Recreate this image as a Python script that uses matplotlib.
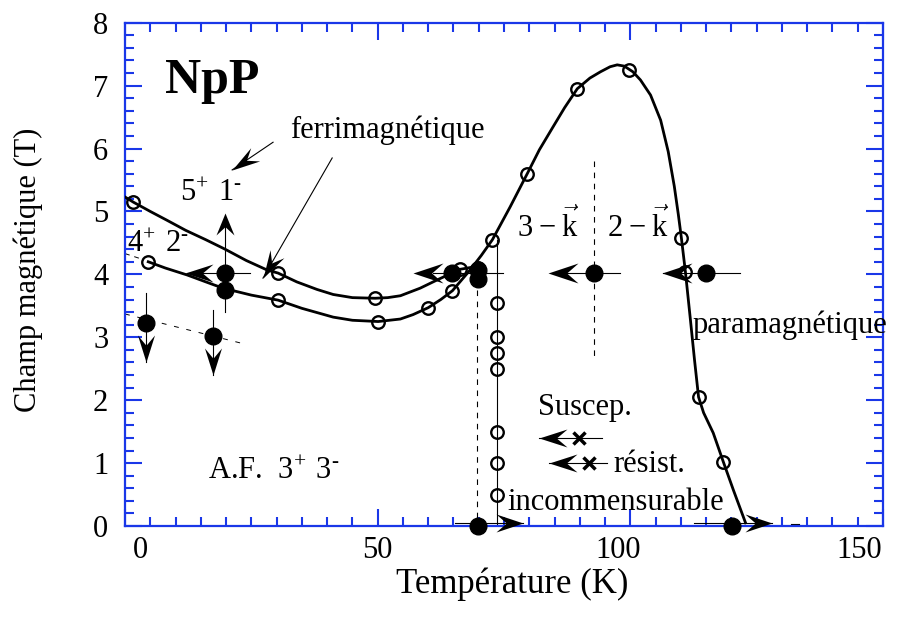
import numpy as np
import matplotlib
matplotlib.use("Agg")
import matplotlib.pyplot as plt
from matplotlib.ticker import MultipleLocator

plt.rcParams['font.family'] = ['Liberation Serif', 'DejaVu Serif']
plt.rcParams['mathtext.fontset'] = 'custom'
plt.rcParams['mathtext.rm'] = 'Liberation Serif'
plt.rcParams['mathtext.default'] = 'rm'

blue = '#1a37e8'

# phase boundaries (T in K, H in tesla)
curve_a_T = [0, 1.6, 5.0, 8.3, 12.0, 16.0, 19.8, 24.0, 28.1, 30.3, 34.0, 38.0, 41.2,
             45.0, 49.5, 52.0, 54.5, 58.4, 62.0, 66.3, 69.9]
curve_a_H = [5.23, 5.15, 5.00, 4.86, 4.70, 4.55, 4.40, 4.22, 4.07, 4.02, 3.88, 3.76, 3.68,
             3.63, 3.62, 3.63, 3.66, 3.78, 3.92, 4.08, 4.13]

curve_b_T = [4.6, 8.0, 12.3, 16.0, 19.4, 25.0, 30.3, 35.0, 41.2, 45.0, 50.1, 54.5, 57.0,
             60.0, 62.5, 64.8, 68.3, 70.5, 72.7, 76.2, 79.6, 82.0, 84.6, 87.0, 89.5,
             92.0, 94.1, 96.0, 97.4, 98.8, 100.5, 102.0, 104.0, 106.0, 107.5, 108.7,
             109.5, 110.1, 110.9, 111.9, 112.7, 113.5, 114.5, 116.4, 118.4, 120.4, 122.8]
curve_b_H = [4.20, 4.10, 3.99, 3.88, 3.78, 3.67, 3.59, 3.46, 3.32, 3.27, 3.25, 3.29, 3.36,
             3.47, 3.60, 3.74, 4.07, 4.30, 4.55, 5.07, 5.60, 5.98, 6.33, 6.65, 6.95,
             7.12, 7.22, 7.30, 7.33, 7.31, 7.22, 7.09, 6.85, 6.45, 5.95, 5.40,
             4.95, 4.58, 4.04, 3.27, 2.64, 2.05, 1.80, 1.48, 1.02, 0.57, 0.05]

# open circles
open_T = [1.6, 4.6, 30.3, 30.3, 49.5, 50.1, 60.0, 64.8, 66.3, 69.9, 72.7, 79.6, 89.5,
          99.8, 110.1, 110.9, 113.5, 118.4]
open_H = [5.15, 4.20, 4.02, 3.59, 3.62, 3.25, 3.47, 3.74, 4.09, 4.10, 4.55, 5.60, 6.95,
          7.25, 4.58, 4.04, 2.05, 1.02]
col_T = 73.6
col_H = [3.55, 3.0, 2.75, 2.5, 1.5, 1.0, 0.5]

# filled circles
fill_T = [4.2, 17.4, 19.8, 19.8, 64.8, 69.9, 69.9, 92.9, 114.9, 69.9, 120.2]
fill_H = [3.23, 3.02, 4.02, 3.75, 4.02, 4.07, 3.93, 4.02, 4.02, 0.0, 0.0]

# susceptibility / resistivity crosses
cross_T = [89.9, 91.9]
cross_H = [1.40, 1.00]

fig = plt.figure(figsize=(9.01, 6.21), dpi=100)
ax = fig.add_axes([125 / 901, 1 - 526 / 621, 758 / 901, 503.3 / 621])
ax.set_xlim(0, 150)
ax.set_ylim(0, 8)


def head(xt, yt, xf, yf, L, W, notch=0.62):
    # stealth arrow head, tip at (xt, yt), coming from (xf, yf); sizes in px
    p1 = ax.transData.transform((xt, yt))
    p0 = ax.transData.transform((xf, yf))
    a = np.arctan2(p1[1] - p0[1], p1[0] - p0[0])
    v = np.array([[0, 0], [-L, W / 2], [-notch * L, 0], [-L, -W / 2], [0, 0]]) * 0.72
    r = np.array([[np.cos(a), -np.sin(a)], [np.sin(a), np.cos(a)]])
    v = v @ r.T
    ms = 2 * np.abs(v).max()
    ax.plot(xt, yt, marker=v, ms=ms, color='k', mew=0, ls='none', clip_on=False, zorder=6)


def arrow(xf, yf, xt, yt, L=28, W=20, lw=0.8):
    ax.plot([xf, xt], [yf, yt], color='k', lw=lw, clip_on=False, zorder=2)
    head(xt, yt, xf, yf, L, W)


# thin guide lines
ax.plot([0, 3.4], [4.33, 4.24], 'k--', lw=0.7, dashes=(5, 5))
ax.plot([0, 23.8], [3.37, 2.89], 'k--', lw=0.7, dashes=(5, 8))
ax.plot([69.6, 69.6], [3.75, 0], 'k--', lw=0.8, dashes=(5, 5))
ax.plot([col_T, col_T], [4.55, 0], 'k-', lw=0.8)
ax.plot([92.9, 92.9], [5.8, 2.64], 'k--', lw=0.8, dashes=(5, 5))
ax.plot([61.0, 74.9], [4.02, 4.02], 'k-', lw=0.8)
ax.plot([86.7, 98.0], [4.02, 4.02], 'k-', lw=0.8)
ax.plot([106.5, 121.8], [4.02, 4.02], 'k-', lw=0.8)
ax.plot([12.3, 24.8], [4.02, 4.02], 'k-', lw=0.8)
ax.plot([19.8, 19.8], [4.86, 3.40], 'k-', lw=0.8)
ax.plot([131.7, 133.3], [0.03, 0.03], 'k-', lw=0.8, clip_on=False)

# arrows
head(57.0, 4.02, 64.8, 4.02, 30, 20)
head(83.8, 4.02, 92.9, 4.02, 30, 20)
head(106.3, 4.02, 114.9, 4.02, 30, 20)
head(11.9, 4.02, 19.8, 4.02, 28, 18)
head(19.8, 4.98, 19.8, 4.02, 22, 18)
arrow(4.2, 3.70, 4.2, 2.61, L=27, W=17)
arrow(17.4, 3.43, 17.4, 2.40, L=27, W=17)
arrow(65.3, 0.05, 78.8, 0.05, L=27, W=18)
arrow(112.5, 0.05, 128.1, 0.05, L=27, W=18)
arrow(94.3, 1.40, 81.9, 1.40, L=28, W=18)
arrow(95.3, 1.00, 83.9, 1.00, L=28, W=18)
arrow(29.3, 6.10, 21.2, 5.66, L=28, W=16)
arrow(41.0, 5.85, 27.3, 3.94, L=28, W=16)

# boundaries
ax.plot(curve_a_T, curve_a_H, 'k-', lw=2.0, zorder=3, solid_joinstyle='round')
ax.plot(curve_b_T, curve_b_H, 'k-', lw=2.0, zorder=3, solid_joinstyle='round')

ax.plot(open_T, open_H, 'o', ms=9, mfc='none', mec='k', mew=1.7, zorder=4, clip_on=False)
ax.plot([col_T] * len(col_H), col_H, 'o', ms=9, mfc='none', mec='k', mew=1.7, zorder=4)
ax.plot(fill_T, fill_H, 'o', ms=12, color='k', zorder=5, clip_on=False)
ax.plot(cross_T, cross_H, 'x', ms=8, color='k', mew=2.5, zorder=5)

# labels inside the plot
fs = 22
ax.text(7.9, 6.88, 'NpP', fontsize=36, fontweight='bold')
ax.text(32.7, 6.17, 'ferrimagnétique', fontsize=fs)
ax.text(10.9, 5.16, r'$5^{+}\ 1^{\text{-}}$', fontsize=fs)
ax.text(0.4, 4.35, r'$4^{+}\ 2^{\text{-}}$', fontsize=fs)
ax.text(77.6, 4.59, r'$3-\vec{k}$', fontsize=fs)
ax.text(95.4, 4.59, r'$2-\vec{k}$', fontsize=fs)
ax.text(112.3, 3.07, 'paramagnétique', fontsize=fs)
ax.text(81.8, 1.76, 'Suscep.', fontsize=fs)
ax.text(96.6, 0.86, 'résist.', fontsize=fs)
ax.text(75.6, 0.25, 'incommensurable', fontsize=fs)
ax.text(16.4, 0.75, r'A.F.  $3^{+}\ 3^{\text{-}}$', fontsize=fs)

# axes styling
for s in ax.spines.values():
    s.set_color(blue)
    s.set_linewidth(1.6)
ax.xaxis.set_major_locator(MultipleLocator(50))
ax.xaxis.set_minor_locator(MultipleLocator(5))
ax.yaxis.set_major_locator(MultipleLocator(1))
ax.yaxis.set_minor_locator(MultipleLocator(0.2))
ax.tick_params(which='both', direction='in', top=True, right=True, color=blue, width=1.5)
ax.tick_params(which='major', length=12.5)
ax.tick_params(which='minor', length=6.5)
ax.tick_params(axis='y', labelsize=fs, pad=12)
ax.set_xticklabels([])

# x tick labels sit a little off their ticks in the original
xlab_vals = [0, 50, 100, 150]
xlab_pos = [3.0, 49.9, 97.6, 145.3]
for v, p in zip(xlab_vals, xlab_pos):
    ax.text(p, -0.064, str(v), fontsize=fs, ha='center', va='baseline',
            transform=ax.get_xaxis_transform())

fig.text(512 / 901, 1 - 593 / 621, 'Température (K)', fontsize=25, ha='center', va='baseline')
fig.text(28 / 901, 1 - 270 / 621, 'Champ magnétique (T)', fontsize=fs, rotation=90,
         ha='center', va='center')

fig.savefig('out.png', dpi=100)
